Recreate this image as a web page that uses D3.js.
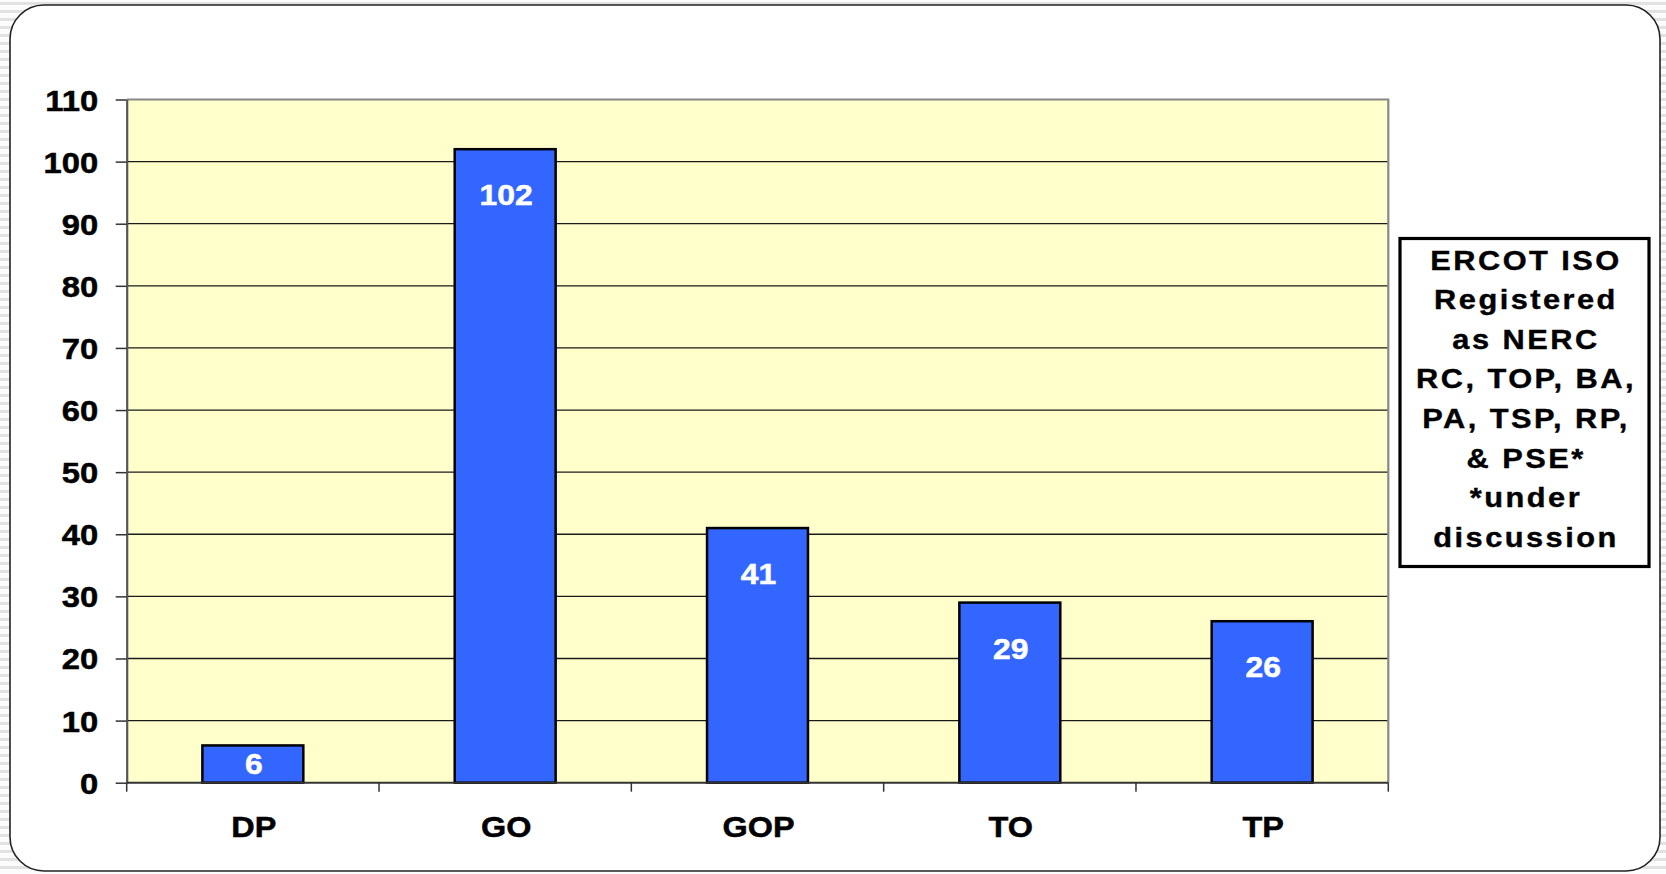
<!DOCTYPE html>
<html>
<head>
<meta charset="utf-8">
<title>ERCOT registrations</title>
<script src="https://d3js.org/d3.v7.min.js"></script>
<style>
  body { margin: 0; background: #fff; }
  svg { display: block; font-family: "Liberation Sans", Arial, sans-serif; font-weight: bold; }
</style>
</head>
<body>
<svg id="chart" width="1666" height="874"></svg>
<script>
// data
var categories = ["DP", "GO", "GOP", "TO", "TP"];
var counts = [6, 102, 41, 29, 26];
var yTicks = [0, 10, 20, 30, 40, 50, 60, 70, 80, 90, 100, 110];
var noteLines = ["ERCOT ISO", "Registered", "as NERC", "RC, TOP, BA,", "PA, TSP, RP,", "& PSE*", "*under", "discussion"];

var W = 1666, H = 874;
var plot = {left: 126.7, right: 1388.3, top: 99.5, bottom: 782.7};

var svg = d3.select("#chart");

// the text in the slide is a bit wider than plain Arial bold
function wideText(sel, px, py, sx) {
  sel.attr("x", 0).attr("y", 0)
    .attr("transform", function(d, i) {
      return "translate(" + px(d, i) + "," + py(d, i) + ") scale(" + sx + ",1)";
    });
}

// striped slide background + rounded frame
var defs = svg.append("defs");
var pat = defs.append("pattern").attr("id", "stripes")
  .attr("width", 8).attr("height", 8).attr("patternUnits", "userSpaceOnUse");
pat.append("rect").attr("width", 8).attr("height", 8).attr("fill", "#fcfcfc");
pat.append("rect").attr("y", 2).attr("width", 8).attr("height", 3).attr("fill", "#e2e2e2");
svg.append("rect").attr("width", W).attr("height", H).attr("fill", "url(#stripes)");
svg.append("rect")
  .attr("x", 10).attr("y", 5).attr("width", 1650).attr("height", 866)
  .attr("rx", 34).attr("ry", 34)
  .attr("fill", "#fff").attr("stroke", "#222").attr("stroke-width", 1.6);

var x = d3.scaleBand().domain(categories)
  .range([plot.left, plot.right]).paddingInner(0.6).paddingOuter(0.3);
var slot = d3.scaleLinear().domain([0, categories.length]).range([plot.left, plot.right]);
var y = d3.scaleLinear().domain([0, 110]).range([plot.bottom, plot.top]);

// plot area
svg.append("rect")
  .attr("x", plot.left).attr("y", plot.top)
  .attr("width", plot.right - plot.left).attr("height", plot.bottom - plot.top)
  .attr("fill", "#ffffcc");

svg.append("g").selectAll("line")
  .data(yTicks.filter(function(d) { return d > 0 && d < 110; }))
  .join("line")
  .attr("x1", plot.left).attr("x2", plot.right)
  .attr("y1", function(d) { return y(d); }).attr("y2", function(d) { return y(d); })
  .attr("stroke", "#1a1a1a").attr("stroke-width", 1.3);

// top and right border in grey
svg.append("path")
  .attr("d", "M" + plot.left + "," + y(110) + "H" + plot.right + "V" + plot.bottom)
  .attr("fill", "none").attr("stroke", "#888").attr("stroke-width", 2.2);

// bars
svg.append("g").selectAll("rect")
  .data(counts)
  .join("rect")
  .attr("x", function(d, i) { return x(categories[i]); })
  .attr("y", function(d) { return y(d); })
  .attr("width", x.bandwidth())
  .attr("height", function(d) { return y(0) - y(d); })
  .attr("fill", "#3366ff").attr("stroke", "#000").attr("stroke-width", 2.5);

// value labels
svg.append("g").selectAll("text")
  .data(counts)
  .join("text")
  .attr("text-anchor", "middle")
  .attr("fill", "#fff").attr("stroke", "#fff").attr("stroke-width", 0.5)
  .attr("font-size", 29)
  .text(function(d) { return d; })
  .call(wideText,
    function(d, i) { return x(categories[i]) + x.bandwidth() / 2 + 1; },
    function(d) { return Math.min(y(d) + 56, (y(d) + y(0)) / 2 + 10); },
    1.1);

// y axis
var yAxis = svg.append("g")
  .attr("transform", "translate(" + plot.left + ",0)")
  .call(d3.axisLeft(y).tickValues(yTicks).tickSize(11).tickPadding(18).tickSizeOuter(0));
yAxis.select(".domain").attr("stroke", "#555").attr("stroke-width", 2.2);
yAxis.selectAll(".tick line").attr("stroke", "#333").attr("stroke-width", 1.5);
yAxis.selectAll(".tick text").remove();
yAxis.selectAll(".tick").append("text")
  .attr("text-anchor", "end")
  .attr("fill", "#000").attr("stroke", "#000").attr("stroke-width", 0.5)
  .attr("font-size", 29).attr("font-family", "Liberation Sans, Arial, sans-serif")
  .attr("font-weight", "bold")
  .text(function(d) { return d; })
  .call(wideText, function() { return -28.5; }, function() { return 10.5; }, 1.13);

// x axis line and slot ticks
svg.append("line")
  .attr("x1", plot.left).attr("x2", plot.right)
  .attr("y1", plot.bottom).attr("y2", plot.bottom)
  .attr("stroke", "#333").attr("stroke-width", 2);
svg.append("g").selectAll("line")
  .data(d3.range(categories.length + 1))
  .join("line")
  .attr("x1", function(d) { return slot(d); }).attr("x2", function(d) { return slot(d); })
  .attr("y1", plot.bottom).attr("y2", plot.bottom + 9)
  .attr("stroke", "#333").attr("stroke-width", 1.5);

svg.append("g").selectAll("text")
  .data(categories)
  .join("text")
  .attr("text-anchor", "middle")
  .attr("fill", "#000").attr("stroke", "#000").attr("stroke-width", 0.5)
  .attr("font-size", 30)
  .text(function(d) { return d; })
  .call(wideText,
    function(d) { return x(d) + x.bandwidth() / 2 + 1; },
    function() { return 836.5; },
    1.08);

// note box
var box = {x: 1400, y: 238.5, w: 249, h: 328};
svg.append("rect")
  .attr("x", box.x).attr("y", box.y).attr("width", box.w).attr("height", box.h)
  .attr("fill", "#fff").attr("stroke", "#000").attr("stroke-width", 3.2);
svg.append("g").selectAll("text")
  .data(noteLines)
  .join("text")
  .attr("text-anchor", "middle")
  .attr("fill", "#000").attr("stroke", "#000").attr("stroke-width", 0.4)
  .attr("font-size", 27.5).attr("letter-spacing", 2.2)
  .text(function(d) { return d; })
  .call(wideText,
    function() { return box.x + box.w / 2 + 1.5; },
    function(d, i) { return 269.5 + i * 39.6; },
    1.12);
</script>
</body>
</html>
